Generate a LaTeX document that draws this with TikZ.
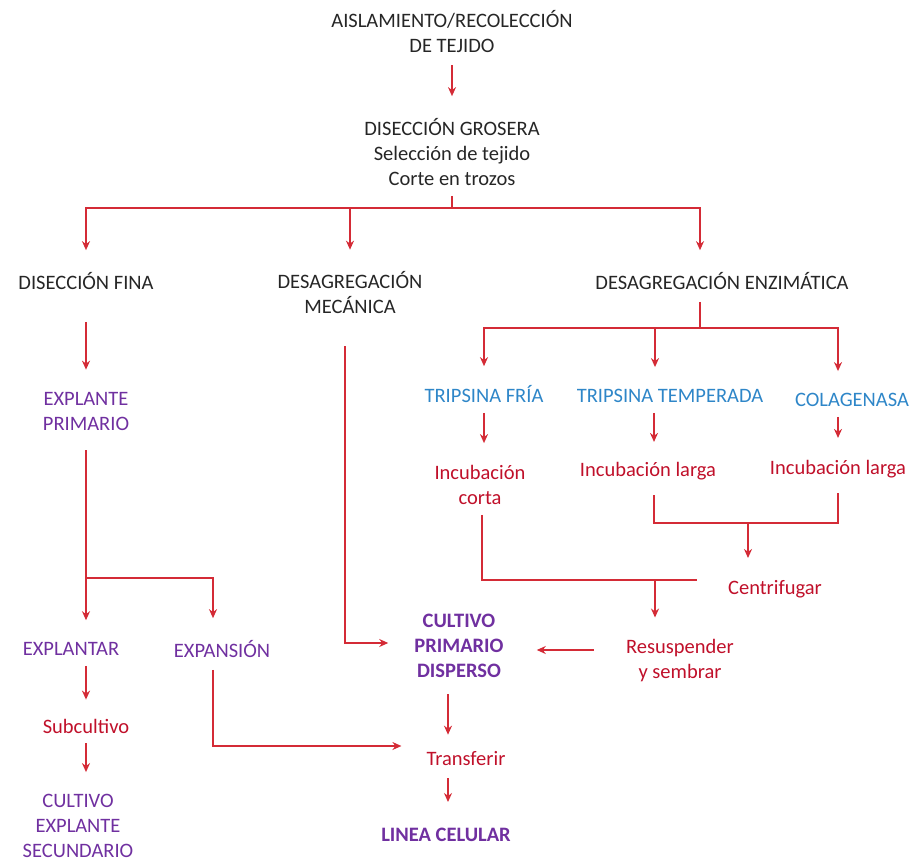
\documentclass[tikz,border=0pt]{standalone}
\usepackage{fontspec}
\setmainfont{Carlito}
\usetikzlibrary{arrows.meta}
\definecolor{linkred}{HTML}{D42B36}
\definecolor{txtdark}{HTML}{262626}
\definecolor{txtviolet}{HTML}{7030A0}
\definecolor{txtblue}{HTML}{2E86C8}
\definecolor{txtred}{HTML}{C0102A}
\begin{document}
\begin{tikzpicture}[x=1pt, y=-1pt,
    lbl/.style={font=\fontsize{20.5}{25}\selectfont, align=center, inner sep=0pt},
    stage/.style={lbl, text=txtdark},
    culture/.style={lbl, text=txtviolet},
    result/.style={lbl, text=txtviolet, font=\fontsize{20.5}{25}\selectfont\bfseries},
    reagent/.style={lbl, text=txtblue},
    process/.style={lbl, text=txtred},
    link/.style={draw=linkred, line width=2.4pt},
    arr/.style={link, -{Stealth[length=9pt,width=8pt]}, shorten >=22pt},
    lead/.style={shorten <=#1}, lead/.default=10pt]
\useasboundingbox (0,0) rectangle (909,861);

\node[stage] (aisl) at (452,32) {AISLAMIENTO/RECOLECCIÓN\\DE TEJIDO};
\node[stage] (gros) at (452,152) {DISECCIÓN GROSERA\\Selección de tejido\\Corte en trozos};
\node[stage] (fina) at (86,281) {DISECCIÓN FINA};
\node[stage] (mec) at (350,293) {DESAGREGACIÓN\\MECÁNICA};
\node[stage] (enz) at (722,281) {DESAGREGACIÓN ENZIMÁTICA};
\node[culture] (expl) at (86,411) {EXPLANTE\\PRIMARIO};
\node[culture] (explantar) at (71,649) {EXPLANTAR};
\node[culture] (expan) at (222,649) {EXPANSIÓN};
\node[process] (subc) at (86,726) {Subcultivo};
\node[culture] (secund) at (78,826) {CULTIVO\\EXPLANTE\\SECUNDARIO};
\node[reagent] (fria) at (484,394) {TRIPSINA FRÍA};
\node[reagent] (temp) at (670,396) {TRIPSINA TEMPERADA};
\node[reagent] (colag) at (852,400) {COLAGENASA};
\node[process] (corta) at (480,485) {Incubación\\corta};
\node[process] (larga1) at (648,471) {Incubación larga};
\node[process] (larga2) at (838,469) {Incubación larga};
\node[process] (centr) at (775,589) {Centrifugar};
\node[process] (resus) at (680,661) {Resuspender\\y sembrar};
\node[result] (disp) at (459,646) {CULTIVO\\PRIMARIO\\DISPERSO};
\node[process] (transf) at (466,759) {Transferir};
\node[result] (linea) at (446,835) {LINEA CELULAR};

\coordinate (gj) at (452,208);
\coordinate (ej) at (700,328);
\coordinate (xj) at (86,578);
\coordinate (lj) at (748,523);
\coordinate (cj) at (655,579);

\draw[arr, lead=12pt] (aisl) -- (gros);
\draw[link, lead] (gros) -- (gj);
\draw[arr] (gj) -| (fina);
\draw[arr] (gj) -| (mec);
\draw[arr] (gj) -| ([xshift=-22pt]enz.north);
\draw[arr, lead=32pt] (fina) -- (expl);
\draw[link, lead=20pt] (expl) -- (xj);
\draw[arr] (xj) -| ([xshift=15pt]explantar.north);
\draw[arr] (xj) -| ([xshift=-9pt]expan.north);
\draw[arr, lead, shorten >=19pt] ([xshift=15pt]explantar.south) -- (subc);
\draw[arr, lead, shorten >=22pt] (subc) -- ([xshift=8pt]secund.north);
\draw[arr, lead=12pt, shorten >=25pt] ([xshift=-9pt]expan.south) |- ([yshift=13pt]transf.west);
\draw[arr, lead=32pt, shorten >=26pt] ([xshift=-5pt]mec.south) |- ([yshift=3pt]disp.west);
\draw[link, lead=12pt] ([xshift=-22pt]enz.south) -- (ej);
\draw[arr, shorten >=19pt] (ej) -| (fria);
\draw[arr] (ej) -| ([xshift=-15pt]temp.north);
\draw[arr] (ej) -| ([xshift=-14pt]colag.north);
\draw[arr, lead] (fria) -- (fria |- corta.north);
\draw[arr, lead, shorten >=20pt] ([xshift=-16pt]temp.south) -- ([xshift=6pt]larga1.north);
\draw[arr, lead] ([xshift=-14pt]colag.south) -- (larga2);
\draw[link, lead=15pt, shorten >=15pt] ([xshift=6pt]larga1.south) |- (lj) -| (larga2.south);
\draw[arr] (lj) -- (lj |- centr.north);
\draw[link, lead, shorten >=31pt] ([xshift=2pt]corta.south) |- ([yshift=9pt]centr.west);
\draw[arr] (cj) -- (cj |- resus.north);
\draw[arr, lead=32pt, shorten >=33pt] ([yshift=11pt]resus.west) -- ([yshift=11pt]resus.west -| disp.east);
\draw[arr, lead=16pt, shorten >=17pt] ([xshift=-11pt]disp.south) -- ([xshift=-18pt]transf.north);
\draw[arr, lead=12pt, shorten >=26pt] ([xshift=-18pt]transf.south) -- ([xshift=2pt]linea.north);
\end{tikzpicture}
\end{document}
